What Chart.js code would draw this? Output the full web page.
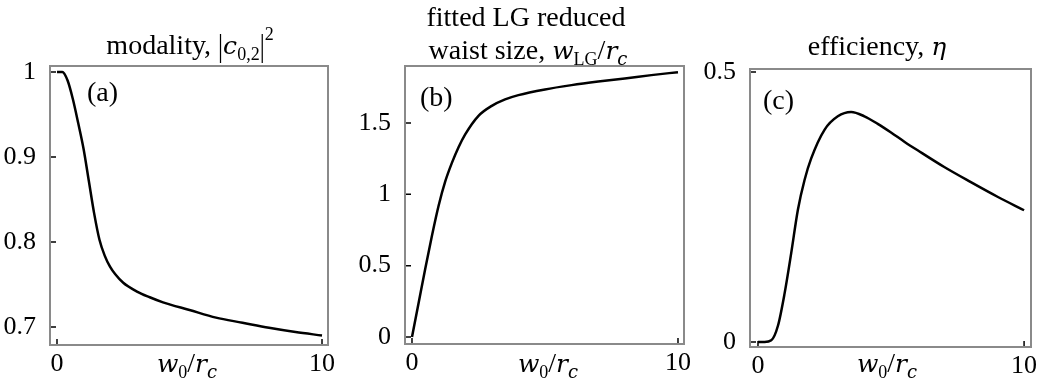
<!DOCTYPE html>
<html>
<head>
<meta charset="utf-8">
<script src="https://cdn.jsdelivr.net/npm/chart.js@4.4.0/dist/chart.umd.min.js"></script>
<style>
  body { margin: 0; background: #fff; }
  #wrap { position: relative; width: 1046px; height: 387px; overflow: hidden; font-family: 'Liberation Serif', serif; color: #000; }
  canvas { position: absolute; top: 0; }
  .txt { position: absolute; font-size: 28px; line-height: 28px; white-space: nowrap; transform: translateX(-50%); }
  .lbl { position: absolute; font-size: 28px; line-height: 28px; }
  .m { font-family: 'DejaVu Serif', serif; font-style: italic; font-size: 25px; line-height: 0; }
  .sb { font-size: 18px; position: relative; top: 6px; line-height: 0; }
  .bar { display: inline-block; transform: scaleY(1.3); font-size: 25px; line-height: 0; }
  .sp { font-size: 18px; position: relative; top: -14px; line-height: 0; }
</style>
</head>
<body>
<div id="wrap">
  <canvas id="pa" style="left:0px" width="345" height="387"></canvas>
  <canvas id="pb" style="left:350px" width="345" height="387"></canvas>
  <canvas id="pc" style="left:700px" width="346" height="387"></canvas>

  <div class="txt" style="left:190px; top:31px">modality, <span class="bar">|</span><span class="m">c</span><span class="sb">0,2</span><span class="bar">|</span><span class="sp">2</span></div>
  <div class="txt" style="left:526px; top:3px">fitted LG reduced</div>
  <div class="txt" style="left:528px; top:36px">waist size, <span class="m">w</span><span class="sb">LG</span>/<span class="m">r</span><span class="sb m">c</span></div>
  <div class="txt" style="left:877px; top:32px">efficiency, <span class="m">η</span></div>

  <div class="txt" style="left:187px; top:349px"><span class="m">w</span><span class="sb">0</span>/<span class="m">r</span><span class="sb m">c</span></div>
  <div class="txt" style="left:548px; top:349px"><span class="m">w</span><span class="sb">0</span>/<span class="m">r</span><span class="sb m">c</span></div>
  <div class="txt" style="left:887px; top:349px"><span class="m">w</span><span class="sb">0</span>/<span class="m">r</span><span class="sb m">c</span></div>

  <div class="lbl" style="left:87px; top:78px">(a)</div>
  <div class="lbl" style="left:420px; top:83px">(b)</div>
  <div class="lbl" style="left:763px; top:86px">(c)</div>
</div>
<script>
// w0/rc samples and the three curves
var xA = [0, 0.2, 0.4, 0.6, 0.8, 1.0, 1.2, 1.4, 1.6, 1.8, 2.0, 2.2, 2.5, 3.0, 3.5, 4.0, 5.0, 6.0, 7.0, 8.0, 9.0, 10];
var modality = [1.0, 1.0, 0.99, 0.968, 0.94, 0.91, 0.872, 0.834, 0.803, 0.784, 0.771, 0.762, 0.752, 0.742, 0.735, 0.729, 0.72, 0.711, 0.705, 0.699, 0.694, 0.69];

var xB = [0, 0.25, 0.5, 0.75, 1.0, 1.25, 1.5, 1.75, 2.0, 2.5, 3.0, 3.5, 4.0, 5.0, 6.0, 7.0, 8.0, 9.0, 10];
var waistLG = [0, 0.24, 0.48, 0.71, 0.92, 1.09, 1.22, 1.33, 1.42, 1.55, 1.62, 1.665, 1.695, 1.735, 1.765, 1.79, 1.812, 1.835, 1.856];

var xC = [0, 0.25, 0.5, 0.75, 1.0, 1.25, 1.5, 1.75, 2.0, 2.5, 3.0, 3.5, 4.0, 4.5, 5.0, 5.5, 6.0, 7.0, 8.0, 9.0, 10];
var efficiency = [0, 0, 0.003, 0.03, 0.09, 0.165, 0.245, 0.3, 0.34, 0.393, 0.418, 0.426, 0.418, 0.404, 0.388, 0.371, 0.355, 0.324, 0.296, 0.269, 0.244];

var xTicks = [0, 10];
var yTicksA = [0.7, 0.8, 0.9, 1];
var yTicksB = [0, 0.5, 1, 1.5];
var yTicksC = [0, 0.5];

var tickFont = { family: 'Liberation Serif', size: 26 };

var framePlugin = {
    id: 'frame',
    afterDatasetsDraw: function (chart) {
        var a = chart.chartArea, ctx = chart.ctx;
        var xs = chart.scales.x, ys = chart.scales.y;
        ctx.save();
        ctx.strokeStyle = '#000';
        ctx.lineWidth = 1.5;
        ctx.beginPath();
        xs.ticks.forEach(function (t) {
            var px = xs.getPixelForValue(t.value);
            ctx.moveTo(px, a.bottom);
            ctx.lineTo(px, a.bottom - 6);
        });
        ys.ticks.forEach(function (t) {
            var py = ys.getPixelForValue(t.value);
            ctx.moveTo(a.left, py);
            ctx.lineTo(a.left + 6, py);
        });
        ctx.stroke();
        ctx.strokeStyle = '#8a8a8a';
        ctx.lineWidth = 2;
        ctx.strokeRect(a.left, a.top, a.right - a.left, a.bottom - a.top);
        ctx.restore();
    }
};

function makePanel(id, xs, ys, yTicks, xr, yr, yw, pad) {
    var pts = xs.map(function (x, i) { return { x: x, y: ys[i] }; });
    return new Chart(document.getElementById(id), {
        type: 'scatter',
        data: {
            datasets: [{
                data: pts,
                showLine: true,
                borderColor: '#000',
                borderWidth: 2.5,
                pointRadius: 0,
                cubicInterpolationMode: 'monotone'
            }]
        },
        options: {
            responsive: false,
            animation: false,
            layout: { padding: pad },
            scales: {
                x: {
                    type: 'linear', min: xr[0], max: xr[1],
                    afterBuildTicks: function (s) { s.ticks = xTicks.map(function (v) { return { value: v }; }); },
                    afterFit: function (s) { s.height = 30; },
                    ticks: { font: tickFont, color: '#000', padding: -4, maxRotation: 0, autoSkip: false,
                        callback: function (v) { return String(v); } },
                    grid: { display: false },
                    border: { display: false }
                },
                y: {
                    type: 'linear', min: yr[0], max: yr[1],
                    afterBuildTicks: function (s) { s.ticks = yTicks.map(function (v) { return { value: v }; }); },
                    afterFit: function (s) { s.width = yw; },
                    ticks: { font: tickFont, color: '#000', padding: 6, autoSkip: false,
                        callback: function (v) { return String(v); } },
                    grid: { display: false },
                    border: { display: false }
                }
            },
            plugins: {
                legend: { display: false },
                tooltip: { enabled: false }
            }
        },
        plugins: [framePlugin]
    });
}

makePanel('pa', xA, modality, yTicksA, [-0.264, 10.226], [0.6788, 1.0071], 50, { top: 66, right: 17, bottom: 12, left: 0 });
makePanel('pb', xB, waistLG, yTicksB, [-0.263, 10.226], [-0.049, 1.899], 55, { top: 66, right: 11, bottom: 13, left: 0 });
makePanel('pc', xC, efficiency, yTicksC, [-0.30, 10.26], [-0.0093, 0.5056], 50, { top: 69, right: 15, bottom: 10, left: 0 });
</script>
</body>
</html>
